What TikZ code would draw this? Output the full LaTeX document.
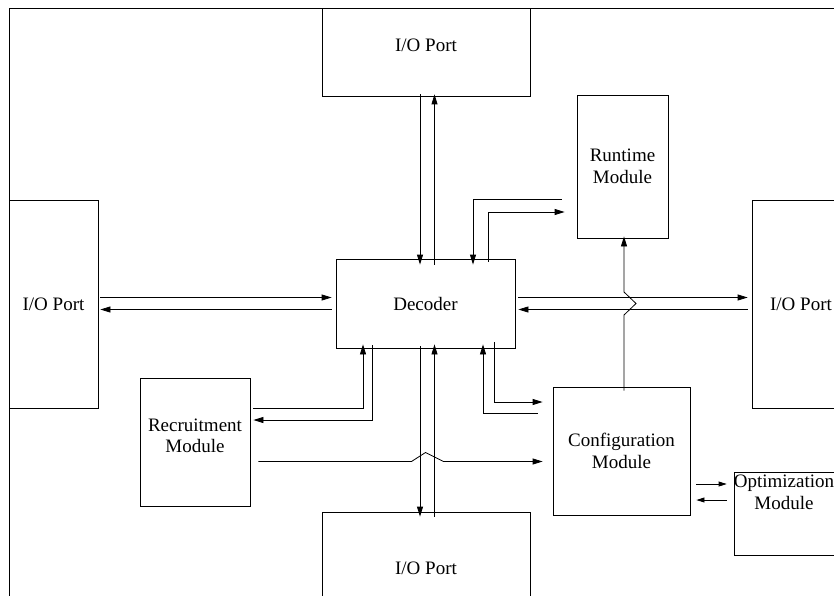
\documentclass[tikz,border=0pt]{standalone}
\usepackage{fontspec}
\setmainfont{Liberation Serif}
\usetikzlibrary{arrows.meta}
\begin{document}
\begin{tikzpicture}[x=1pt,y=-1pt,
  box/.style={draw,line width=0.8pt,rectangle,inner sep=0pt,align=center,
    font=\fontsize{19}{21.5}\selectfont},
  txt/.style={align=center,inner sep=0pt,font=\fontsize{19}{21.5}\selectfont},
  wire/.style={line width=0.8pt},
  arr/.style={wire,-{Triangle[length=10pt,width=6pt]}},
  sarr/.style={wire,-{Triangle[length=8pt,width=5pt]}}]
\clip (0,0) rectangle (834,596);
\fill[white] (0,0) rectangle (834,596);

% blocks
\node[box,minimum width=208pt,minimum height=88pt,
  label={[txt,yshift=7pt]center:I/O Port}] (topio) at (426,52) {};
\node[box,minimum width=89pt, minimum height=208pt] (leftio)  at (53.5,304)  {I/O Port};
\node[box,minimum width=98pt, minimum height=208pt] (rightio) at (801,304)   {I/O Port};
\node[box,minimum width=179pt,minimum height=89pt]  (dec)     at (425.5,303.5) {Decoder};
\node[box,minimum width=91pt, minimum height=143pt] (run)     at (622.5,166.5) {Runtime\\Module};
\node[box,minimum width=110pt,minimum height=128pt,
  label={[txt,yshift=6pt]center:Recruitment\\Module}] (rec) at (195,442) {};
\node[box,minimum width=137pt,minimum height=128pt] (conf)    at (621.5,451) {Configuration\\Module};
\node[box,minimum width=106pt,minimum height=83pt,
  label={[txt,xshift=-3pt,yshift=21pt]center:Optimization\\Module}] (opt) at (787,513.5) {};
\node[box,minimum width=208pt,minimum height=112pt] (botio)   at (426,568)   {I/O Port};

% outer frame (top and left edges)
\draw[wire] (840,8) -- (9,8) -- (9,600);

% helper positions for the wires
\coordinate (xa) at (420,0);
\coordinate (xb) at (434.5,0);
\coordinate (xr1) at (473,199);
\coordinate (xr2) at (488,212);
\coordinate (xc) at (624,0);
\coordinate (ya) at (0,297.5);
\coordinate (yb) at (0,309.5);
\coordinate (xl1) at (363,408);
\coordinate (xl2) at (372,420);
\coordinate (xk1) at (494,402);
\coordinate (xk2) at (483,413);
\coordinate (ym) at (0,461.5);
\coordinate (yo1) at (0,484);
\coordinate (yo2) at (0,500);

% top port <-> decoder
\draw[arr] ([yshift=2pt]topio.south -| xa) -- ([yshift=-6pt]dec.north -| xa);
\draw[arr] ([yshift=-6pt]dec.north -| xb) -- ([yshift=2pt]topio.south -| xb);

% runtime <-> decoder
\draw[arr] ([xshift=-15pt]run.west |- xr1) -- (xr1) -- ([yshift=-6pt]dec.north -| xr1);
\draw[arr] ([yshift=-3pt]dec.north -| xr2) -- (xr2) -- ([xshift=-12pt]run.west |- xr2);

% left port <-> decoder
\draw[arr] ([xshift=2pt]leftio.east |- ya) -- ([xshift=-4pt]dec.west |- ya);
\draw[arr] ([xshift=-4pt]dec.west |- yb) -- ([xshift=2pt]leftio.east |- yb);

% right port <-> decoder
\draw[arr] ([xshift=3pt]dec.east |- ya) -- ([xshift=-4pt]rightio.west |- ya);
\draw[arr] ([xshift=-4pt]rightio.west |- yb) -- ([xshift=3pt]dec.east |- yb);

% configuration -> runtime, hopping over the decoder wires
\draw[arr] ([yshift=-4pt]conf.north -| xc) -- (624,315) -- (636,303.5) -- (624,292)
  -- ([yshift=2pt]run.south -| xc);

% decoder <-> bottom port
\draw[arr] ([yshift=2pt]dec.south -| xa) -- ([yshift=-5pt]botio.north -| xa);
\draw[arr] ([yshift=-5pt]botio.north -| xb) -- ([yshift=4pt]dec.south -| xb);

% recruitment <-> decoder
\draw[arr] ([xshift=3pt]rec.east |- xl1) -- (xl1) -- ([yshift=4pt]dec.south -| xl1);
\draw[arr] ([yshift=3pt]dec.south -| xl2) -- (xl2) -- ([xshift=3pt]rec.east |- xl2);

% decoder <-> configuration
\draw[arr] ([yshift=6pt]dec.south -| xk1) -- (xk1) -- ([xshift=-10pt]conf.west |- xk1);
\draw[arr] ([xshift=-15pt]conf.west |- xk2) -- (xk2) -- ([yshift=4pt]dec.south -| xk2);

% recruitment -> configuration, hopping over the bottom port wires
\draw[arr] ([xshift=8pt]rec.east |- ym) -- (411.5,461.5) -- (425.5,452.5) -- (443.5,461.5)
  -- ([xshift=-10pt]conf.west |- ym);

% configuration <-> optimization
\draw[sarr] ([xshift=6pt]conf.east |- yo1) -- ([xshift=-7pt]opt.west |- yo1);
\draw[sarr] ([xshift=-7pt]opt.west |- yo2) -- ([xshift=6pt]conf.east |- yo2);
\end{tikzpicture}
\end{document}
